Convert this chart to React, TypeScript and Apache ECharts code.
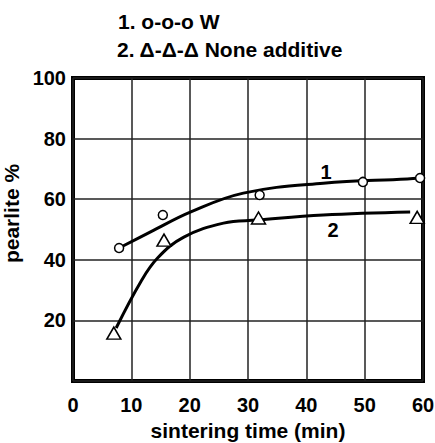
import React, { useEffect, useRef } from "react";
import * as echarts from "echarts";

// Measured points (sintering time, pearlite %)
const wPoints: number[][] = [
  [7.9, 43.9],
  [15.4, 54.8],
  [32.0, 61.4],
  [49.7, 65.7],
  [59.5, 67.0],
];
const nonePoints: number[][] = [
  [7.0, 15.8],
  [15.6, 46.5],
  [31.8, 53.8],
  [59.0, 54.0],
];
// Fitted curves
const wCurve: number[][] = [
  [7.9, 43.9],
  [13.3, 49.2],
  [20.2, 55.8],
  [29.2, 62.0],
  [42.9, 65.3],
  [57.3, 66.7],
  [59.5, 67.0],
];
const noneCurve: number[][] = [
  [7.4, 17.5],
  [11.6, 32.7],
  [14.5, 40.6],
  [19.0, 47.5],
  [25.8, 52.1],
  [31.6, 53.1],
  [42.9, 54.8],
  [57.8, 55.8],
];
const curveLabels: (number | string)[][] = [
  [43.4, 69, "1"],
  [44.6, 49.8, "2"],
];
const legendLines = ["1. o-o-o W", "2. \u0394-\u0394-\u0394 None additive"];
const xName = "sintering time (min)";
const yName = "pearlite %";

const FONT = "'Liberation Sans', Arial, sans-serif";

export default function App() {
  const ref = useRef<HTMLDivElement>(null);
  useEffect(() => {
    if (!ref.current) return;
    const chart = echarts.init(ref.current, null, { renderer: "svg" });
    const txt = { fontFamily: FONT, fontWeight: "bold" as const, fontSize: 21, color: "#000" };
    const tick = { ...txt, fontSize: 20 };
    chart.setOption({
      animation: false,
      backgroundColor: "#fff",
      title: [
        { text: legendLines[0], left: 118, top: 11, padding: 0, textStyle: { ...txt } },
        { text: legendLines[1], left: 117, top: 39, padding: 0, textStyle: { ...txt } },
      ],
      grid: {
        left: 73,
        top: 78,
        right: 12,
        bottom: 62,
        containLabel: false,
        outerBoundsMode: "none",
        show: true,
        borderColor: "#000",
        borderWidth: 4,
        backgroundColor: "#fff",
      },
      xAxis: {
        type: "value",
        min: 0,
        max: 60,
        interval: 10,
        name: xName,
        nameLocation: "middle",
        nameGap: 38,
        nameTextStyle: { ...txt },
        axisLine: { show: false },
        axisTick: { show: false },
        axisLabel: { ...tick, margin: 14 },
        splitLine: { show: true, lineStyle: { color: "#222", width: 1.5 } },
      },
      yAxis: {
        type: "value",
        min: 0,
        max: 100,
        interval: 20,
        name: yName,
        nameLocation: "middle",
        nameGap: 37,
        nameTextStyle: { ...txt, padding: [0, 0, 0, 32] },
        axisLine: { show: false },
        axisTick: { show: false },
        axisLabel: {
          ...tick,
          margin: 7,
          formatter: (v: number) => (v === 0 ? "" : String(v)),
        },
        splitLine: { show: true, lineStyle: { color: "#222", width: 1.5 } },
      },
      series: [
        {
          type: "line",
          data: wCurve,
          smooth: 0.4,
          showSymbol: false,
          lineStyle: { color: "#000", width: 3 },
          z: 3,
        },
        {
          type: "line",
          data: noneCurve,
          smooth: 0.4,
          showSymbol: false,
          lineStyle: { color: "#000", width: 3 },
          z: 3,
        },
        {
          type: "scatter",
          data: wPoints,
          symbol: "circle",
          symbolSize: 9,
          itemStyle: { color: "#fff", borderColor: "#000", borderWidth: 1.5, opacity: 1 },
          z: 4,
        },
        {
          type: "scatter",
          data: nonePoints,
          symbol: "triangle",
          symbolSize: [14, 12],
          itemStyle: { color: "#fff", borderColor: "#000", borderWidth: 1.5, opacity: 1 },
          z: 4,
        },
        {
          type: "scatter",
          data: curveLabels,
          symbolSize: 0,
          itemStyle: { opacity: 1, color: "#000" },
          label: {
            show: true,
            position: "inside",
            formatter: (p: any) => p.value[2],
            ...txt,
            fontSize: 20,
          },
          z: 5,
        },
      ],
    });
    return () => chart.dispose();
  }, []);
  return (
    <div
      ref={ref}
      style={{ position: "fixed", left: 0, top: 0, width: 435, height: 443 }}
    />
  );
}
